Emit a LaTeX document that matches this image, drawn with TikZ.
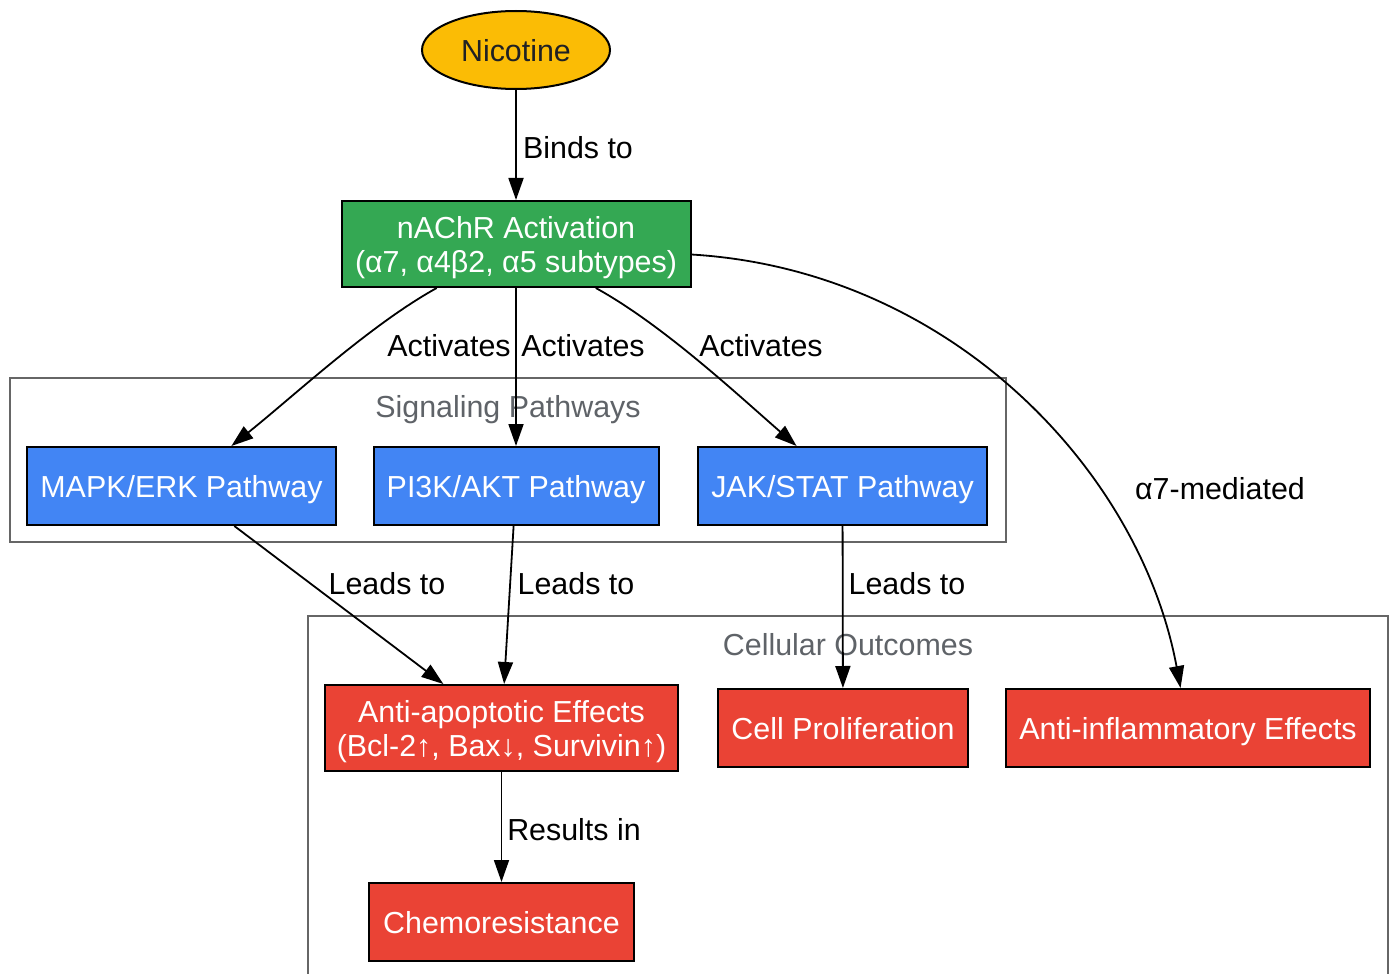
\documentclass[tikz,border=0pt]{standalone}
\usepackage{fontspec}
\setmainfont{Liberation Sans}
\usetikzlibrary{arrows.meta,shapes.geometric}
\definecolor{nicyellow}{HTML}{FBBC05}
\definecolor{actgreen}{HTML}{34A853}
\definecolor{pathblue}{HTML}{4285F4}
\definecolor{outred}{HTML}{EA4335}
\definecolor{clustergray}{HTML}{666666}
\definecolor{clustertext}{HTML}{5F6368}
\definecolor{darktext}{HTML}{202124}

\begin{document}
\begin{tikzpicture}[x=0.5pt,y=0.5pt,
	every node/.style={font=\fontsize{15.2}{17}\selectfont, inner sep=0pt, align=center, text depth=0pt},
	box/.style={draw=black, line width=1pt, rectangle, text=white, minimum height=39pt, text depth=-2pt},
	edge/.style={draw=black, line width=0.9pt, -{Triangle[length=11pt,width=7.5pt]}},
	cluster/.style={draw=clustergray, line width=1pt},
	clusterlabel/.style={text=clustertext},
	edgelabel/.style={text=black}]
	\useasboundingbox (0,0) rectangle (1394,-974);
	\fill [white] (0,0) rectangle (1394,-974);
	% clusters
	\draw [cluster] (10,-378) rectangle (1006,-542);
	\node [clusterlabel] (siglabel) at (508,-406) {Signaling Pathways};
	\draw [cluster] (308,-990) -- (308,-616) -- (1388,-616) -- (1388,-990);
	\node [clusterlabel] (outlabel) at (848,-644) {Cellular Outcomes};
	% nodes
	\node [ellipse, draw=black, line width=1pt, fill=nicyellow, text=darktext, minimum width=94pt, minimum height=39pt, text depth=-2pt] (nicotine) at (516,-50) {Nicotine};
	\node [box, fill=actgreen, minimum width=174.5pt, minimum height=43pt] (nachr) at (516,-244) {nAChR Activation\\(α7, α4β2, α5 subtypes)};
	\node [box, fill=pathblue, minimum width=154.5pt] (mapk) at (181.5,-486) {MAPK/ERK Pathway};
	\node [box, fill=pathblue, minimum width=142.5pt] (pi3k) at (516,-486) {PI3K/AKT Pathway};
	\node [box, fill=pathblue, minimum width=144.5pt] (jak) at (842.5,-486) {JAK/STAT Pathway};
	\node [box, fill=outred, minimum width=176.5pt, minimum height=43pt] (antiapop) at (501.5,-728) {Anti-apoptotic Effects\\(Bcl-2↑, Bax↓, Survivin↑)};
	\node [box, fill=outred, minimum width=125pt] (cellprolif) at (843,-728) {Cell Proliferation};
	\node [box, fill=outred, minimum width=182pt] (antiinflam) at (1188,-728) {Anti-inflammatory Effects};
	\node [box, fill=outred, minimum width=132.5pt] (chemo) at (501.5,-922) {Chemoresistance};
	% edges
	\draw [edge] (nicotine) -- (nachr);
	\draw [edge] (nachr) .. controls (370,-325) and (295,-395) .. (mapk);
	\draw [edge] (nachr) -- (pi3k);
	\draw [edge] (nachr) .. controls (663,-325) and (738,-395) .. (jak);
	\draw [edge] (nachr) .. controls (950,-270) and (1140,-470) .. (antiinflam);
	\draw [edge] (mapk) -- (antiapop);
	\draw [edge] (pi3k) -- (antiapop);
	\draw [edge] (jak) -- (cellprolif);
	\draw [edge] (antiapop) -- (chemo);
	% edge labels
	\node [edgelabel] (lbinds) at (578,-147) {Binds to};
	\node [edgelabel] (lactmapk) at (449,-345) {Activates};
	\node [edgelabel] (lactpi3k) at (583,-345) {Activates};
	\node [edgelabel] (lactjak) at (761,-345) {Activates};
	\node [edgelabel] (lalpha) at (1220,-488) {α7-mediated};
	\node [edgelabel] (lleadmapk) at (387,-583) {Leads to};
	\node [edgelabel] (lleadpi3k) at (576,-583) {Leads to};
	\node [edgelabel] (lleadjak) at (907,-583) {Leads to};
	\node [edgelabel] (lresults) at (574,-829) {Results in};
\end{tikzpicture}
\end{document}
